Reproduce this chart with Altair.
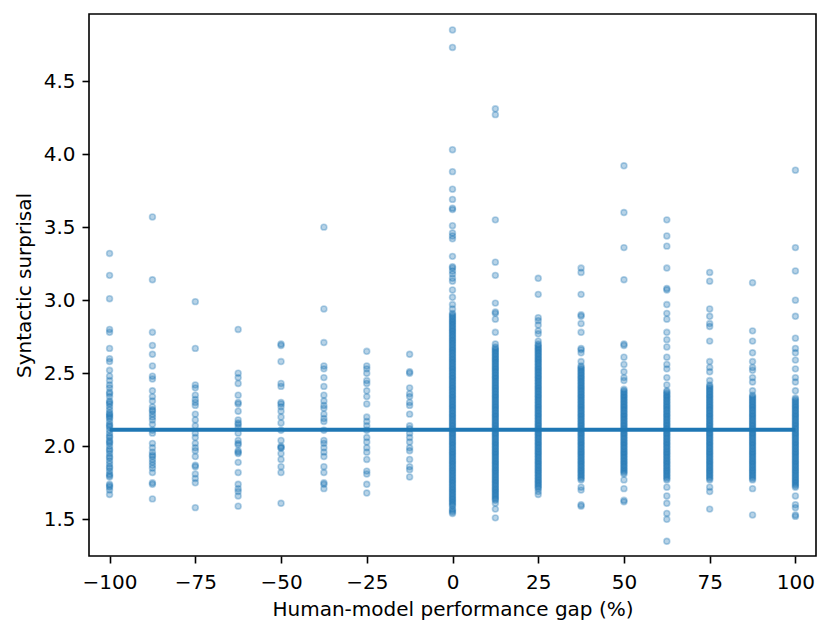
import altair as alt
import pandas as pd

# x positions (human-model performance gap, %)
x_levels = [-100, -87.5, -75, -62.5, -50, -37.5, -25, -12.5, 0,
            12.5, 25, 37.5, 50, 62.5, 75, 87.5, 100]

def vals(s):
    return [float(v) for v in s.split()]

CORE = ("2.50 2.49 2.48 2.47 2.46 2.45 2.44 2.43 2.42 2.41 2.40 2.39 2.38 2.37 2.36 2.35 "
        "2.34 2.33 2.32 2.31 2.30 2.29 2.28 2.27 2.26 2.25 2.24 2.23 2.22 2.21 2.20 2.19 "
        "2.18 2.17 2.16 2.15 2.14 2.13 2.12 2.11 2.10 2.09 2.08 2.07 2.06 2.05 2.04 2.03 "
        "2.02 2.01 2.00 1.99 1.98 1.97 1.96 1.95 1.94 1.93 1.92 1.91 1.90 1.89 1.88 1.87 "
        "1.86 1.85 1.84 1.83 1.82 1.81 1.80 1.79 1.78 1.77 1.76 1.75 ")

col_m100 = vals("3.32 3.17 3.01 2.80 2.78 2.67 2.60 2.58 2.52 2.48 2.45 2.42 2.40 2.37 2.36 2.34 "
                "2.31 2.30 2.29 2.27 2.25 2.23 2.22 2.21 2.20 2.19 2.17 2.15 2.14 2.13 2.11 2.09 "
                "2.07 2.06 2.04 2.03 2.02 2.00 1.98 1.97 1.95 1.93 1.92 1.90 1.88 1.86 1.85 1.83 "
                "1.81 1.80 1.79 1.74 1.73 1.72 1.70 1.67")
col_m875 = vals("3.57 3.14 2.78 2.69 2.63 2.55 2.48 2.46 2.38 2.34 2.31 2.27 2.25 2.24 2.22 2.20 "
                "2.18 2.15 2.11 2.09 2.02 1.99 1.96 1.94 1.93 1.91 1.89 1.87 1.85 1.82 1.75 1.74 1.64")
col_m75 = vals("2.99 2.67 2.42 2.40 2.35 2.32 2.30 2.28 2.22 2.18 2.14 2.09 2.06 2.02 1.99 1.97 "
               "1.93 1.87 1.86 1.81 1.78 1.75 1.58")
col_m625 = vals("2.80 2.50 2.47 2.43 2.35 2.30 2.29 2.24 2.18 2.16 2.15 2.13 2.09 2.04 2.02 2.01 "
                "1.97 1.96 1.95 1.89 1.82 1.74 1.71 1.69 1.66 1.59")
col_m50 = vals("2.70 2.69 2.58 2.43 2.41 2.30 2.29 2.27 2.24 2.20 2.16 2.11 2.04 2.00 1.99 1.99 "
               "1.95 1.91 1.86 1.82 1.61")
col_m375 = vals("3.50 2.94 2.71 2.55 2.53 2.47 2.41 2.35 2.31 2.28 2.26 2.22 2.19 2.17 2.11 2.04 "
                "2.02 1.99 1.96 1.93 1.86 1.82 1.75 1.74 1.71")
col_m25 = vals("2.65 2.55 2.53 2.50 2.45 2.43 2.38 2.34 2.29 2.20 2.17 2.14 2.11 2.06 2.03 1.99 "
               "1.96 1.91 1.83 1.81 1.74 1.68")
col_m125 = vals("2.63 2.51 2.50 2.40 2.36 2.34 2.30 2.28 2.22 2.14 2.12 2.09 2.06 2.03 1.99 1.97 "
                "1.91 1.86 1.84 1.79")
col_0 = vals("4.85 4.73 4.03 3.88 3.76 3.69 3.63 3.62 3.51 3.46 3.44 3.42 3.30 3.23 3.22 3.20 "
             "3.18 3.15 3.13 3.07 3.02 2.97 2.94 2.91 2.90 2.89 2.88 2.87 2.86 2.85 2.84 2.83 "
             "2.82 2.81 2.80 2.79 2.78 2.77 2.76 2.75 2.74 2.73 2.72 2.71 2.70 2.69 2.68 2.67 "
             "2.66 2.65 2.64 2.63 2.62 2.61 2.60 2.59 2.58 2.57 2.56 2.55 2.54 2.53 2.52 2.51 "
             + CORE +
             "1.74 1.73 1.72 1.71 1.70 1.69 1.68 1.67 1.66 1.65 1.64 1.63 1.62 1.61 1.60 1.59 "
             "1.57 1.56 1.55 1.54")
col_125 = vals("4.31 4.27 3.55 3.26 3.17 2.98 2.92 2.91 2.87 2.78 2.70 2.68 2.67 2.66 2.65 2.64 "
               "2.63 2.62 2.61 2.60 2.59 2.58 2.57 2.56 2.55 2.54 2.53 2.52 2.51 "
               + CORE +
               "1.74 1.73 1.72 1.71 1.70 1.69 1.68 1.67 1.66 1.65 1.64 1.63 1.61 1.57 1.51")
col_25 = vals("3.15 3.04 2.88 2.86 2.83 2.79 2.77 2.72 2.70 2.69 2.68 2.67 2.66 2.65 2.64 2.63 "
              "2.62 2.61 2.60 2.59 2.58 2.57 2.56 2.55 2.54 2.53 2.52 2.51 "
              + CORE +
              "1.74 1.73 1.72 1.71 1.69 1.67")
col_375 = vals("3.22 3.19 3.04 2.90 2.89 2.84 2.78 2.67 2.66 2.64 2.58 "
               "2.55 2.54 2.53 2.52 2.51 "
               "2.50 2.49 2.48 2.47 2.46 2.45 2.44 2.43 2.42 2.41 2.40 2.39 2.38 2.37 2.36 2.35 "
               "2.34 2.33 2.32 2.31 2.30 2.29 2.28 2.27 2.26 2.25 2.24 2.23 2.22 2.21 2.20 2.19 "
               "2.18 2.17 2.16 2.15 2.14 2.13 2.12 2.11 2.10 2.09 2.08 2.07 2.06 2.05 2.04 2.03 "
               "2.02 2.01 2.00 1.99 1.98 1.97 1.96 1.95 1.94 1.93 1.92 1.91 1.90 1.89 1.88 1.87 "
               "1.86 1.85 1.84 1.83 1.82 1.81 1.80 1.79 1.78 1.77 "
               "1.72 1.70 1.60 1.59")
col_50 = vals("3.92 3.60 3.36 3.14 2.70 2.69 2.61 2.56 2.51 2.47 2.45 "
              "2.39 2.38 2.37 2.36 2.35 "
              "2.34 2.33 2.32 2.31 2.30 2.29 2.28 2.27 2.26 2.25 2.24 2.23 2.22 2.21 2.20 2.19 "
              "2.18 2.17 2.16 2.15 2.14 2.13 2.12 2.11 2.10 2.09 2.08 2.07 2.06 2.05 2.04 2.03 "
              "2.02 2.01 2.00 1.99 1.98 1.97 1.96 1.95 1.94 1.93 1.92 1.91 1.90 1.89 1.88 1.87 "
              "1.86 1.85 1.84 1.83 1.82 1.81 "
              "1.77 1.71 1.63 1.62")
col_625 = vals("3.55 3.44 3.37 3.22 3.08 3.07 2.97 2.91 2.87 2.78 2.73 2.68 2.61 2.56 2.53 2.47 2.42 "
               "2.38 2.37 2.36 2.35 "
               "2.34 2.33 2.32 2.31 2.30 2.29 2.28 2.27 2.26 2.25 2.24 2.23 2.22 2.21 2.20 2.19 "
               "2.18 2.17 2.16 2.15 2.14 2.13 2.12 2.11 2.10 2.09 2.08 2.07 2.06 2.05 2.04 2.03 "
               "2.02 2.01 2.00 1.99 1.98 1.97 1.96 1.95 1.94 1.93 1.92 1.91 1.90 1.89 1.88 1.87 "
               "1.86 1.85 1.84 1.83 1.82 1.81 1.80 1.79 1.78 1.77 "
               "1.72 1.66 1.61 1.54 1.50 1.35")
col_75 = vals("3.19 3.13 2.94 2.89 2.84 2.82 2.72 2.58 2.54 2.51 2.45 "
              "2.42 2.41 2.40 2.39 2.38 2.37 2.36 2.35 "
              "2.34 2.33 2.32 2.31 2.30 2.29 2.28 2.27 2.26 2.25 2.24 2.23 2.22 2.21 2.20 2.19 "
              "2.18 2.17 2.16 2.15 2.14 2.13 2.12 2.11 2.10 2.09 2.08 2.07 2.06 2.05 2.04 2.03 "
              "2.02 2.01 2.00 1.99 1.98 1.97 1.96 1.95 1.94 1.93 1.92 1.91 1.90 1.89 1.88 1.87 "
              "1.86 1.85 1.84 1.83 1.82 1.81 1.80 1.79 1.78 1.77 "
              "1.72 1.69 1.57")
col_875 = vals("3.12 2.79 2.72 2.64 2.58 2.54 2.52 2.47 2.44 2.38 "
               "2.35 2.34 2.33 2.32 2.31 2.30 2.29 2.28 2.27 2.26 2.25 2.24 2.23 2.22 2.21 2.20 2.19 "
               "2.18 2.17 2.16 2.15 2.14 2.13 2.12 2.11 2.10 2.09 2.08 2.07 2.06 2.05 2.04 2.03 "
               "2.02 2.01 2.00 1.99 1.98 1.97 1.96 1.95 1.94 1.93 1.92 1.91 1.90 1.89 1.88 1.87 "
               "1.86 1.85 1.84 1.83 1.82 1.81 1.80 1.79 1.78 1.77 "
               "1.71 1.53")
col_100 = vals("3.89 3.36 3.20 3.00 2.89 2.74 2.67 2.64 2.59 2.53 2.47 2.44 2.38 "
               "2.33 2.32 2.31 2.30 2.29 2.28 2.27 2.26 2.25 2.24 2.23 2.22 2.21 2.20 2.19 "
               "2.18 2.17 2.16 2.15 2.14 2.13 2.12 2.11 2.10 2.09 2.08 2.07 2.06 2.05 2.04 2.03 "
               "2.02 2.01 2.00 1.99 1.98 1.97 1.96 1.95 1.94 1.93 1.92 1.91 1.90 1.89 1.88 1.87 "
               "1.86 1.85 1.84 1.83 1.82 1.81 1.80 1.79 1.78 1.77 1.76 1.75 1.74 1.73 1.72 "
               "1.66 1.60 1.58 1.53 1.52")

columns = [col_m100, col_m875, col_m75, col_m625, col_m50, col_m375, col_m25, col_m125,
           col_0, col_125, col_25, col_375, col_50, col_625, col_75, col_875, col_100]

rows = [{"gap": x, "surprisal": y} for x, col in zip(x_levels, columns) for y in col]
points_df = pd.DataFrame(rows)

# horizontal mean line
line_x = [-100, 100]
line_y = [2.114, 2.114]
line_df = pd.DataFrame({"gap": line_x, "surprisal": line_y})

x_ticks = [-100, -75, -50, -25, 0, 25, 50, 75, 100]
y_ticks = [1.5, 2.0, 2.5, 3.0, 3.5, 4.0, 4.5]

FONT = "DejaVu Sans"
BLUE = "#1f77b4"
W, H = 727, 542

x_scale = alt.Scale(domain=[-106, 106], nice=False, zero=False)
y_scale = alt.Scale(domain=[1.249, 4.959], nice=False, zero=False)

x_axis = alt.Axis(values=x_ticks, format="d", title="Human-model performance gap (%)",
                  grid=False, domain=False, tickSize=7, tickWidth=1.6, tickColor="black",
                  labelPadding=9, labelFontSize=20, titleFontSize=20,
                  titleFontWeight="normal", titleY=59, titleBaseline="alphabetic",
                  labelFlush=False, labelOverlap=False, labelColor="black", titleColor="black")
y_axis = alt.Axis(values=y_ticks, format=".1f", title="Syntactic surprisal",
                  grid=False, domain=False, tickSize=7, tickWidth=1.6, tickColor="black",
                  labelPadding=7, labelFontSize=20, titleFontSize=20,
                  titleFontWeight="normal", titleX=-59, titleY=H / 2, titleAngle=270,
                  titleAlign="center", titleBaseline="alphabetic",
                  labelFlush=False, labelOverlap=False, labelColor="black", titleColor="black")

points = alt.Chart(points_df).mark_circle(
    size=34, fill=BLUE, fillOpacity=0.32, stroke=BLUE, strokeWidth=1.6, strokeOpacity=0.32
).encode(
    x=alt.X("gap:Q", scale=x_scale, axis=x_axis),
    y=alt.Y("surprisal:Q", scale=y_scale, axis=y_axis),
)

line = alt.Chart(line_df).mark_line(color=BLUE, strokeWidth=4).encode(
    x=alt.X("gap:Q", scale=x_scale),
    y=alt.Y("surprisal:Q", scale=y_scale),
)

chart = alt.layer(points, line).properties(
    width=W, height=H,
    padding={"left": 81, "top": 6, "right": 7, "bottom": 77},
    autosize=alt.AutoSizeParams(type="none"),
).configure(font=FONT).configure_view(stroke="black", strokeWidth=1.6)

chart.save("out.html", embed_options={"renderer": "svg", "actions": False})
